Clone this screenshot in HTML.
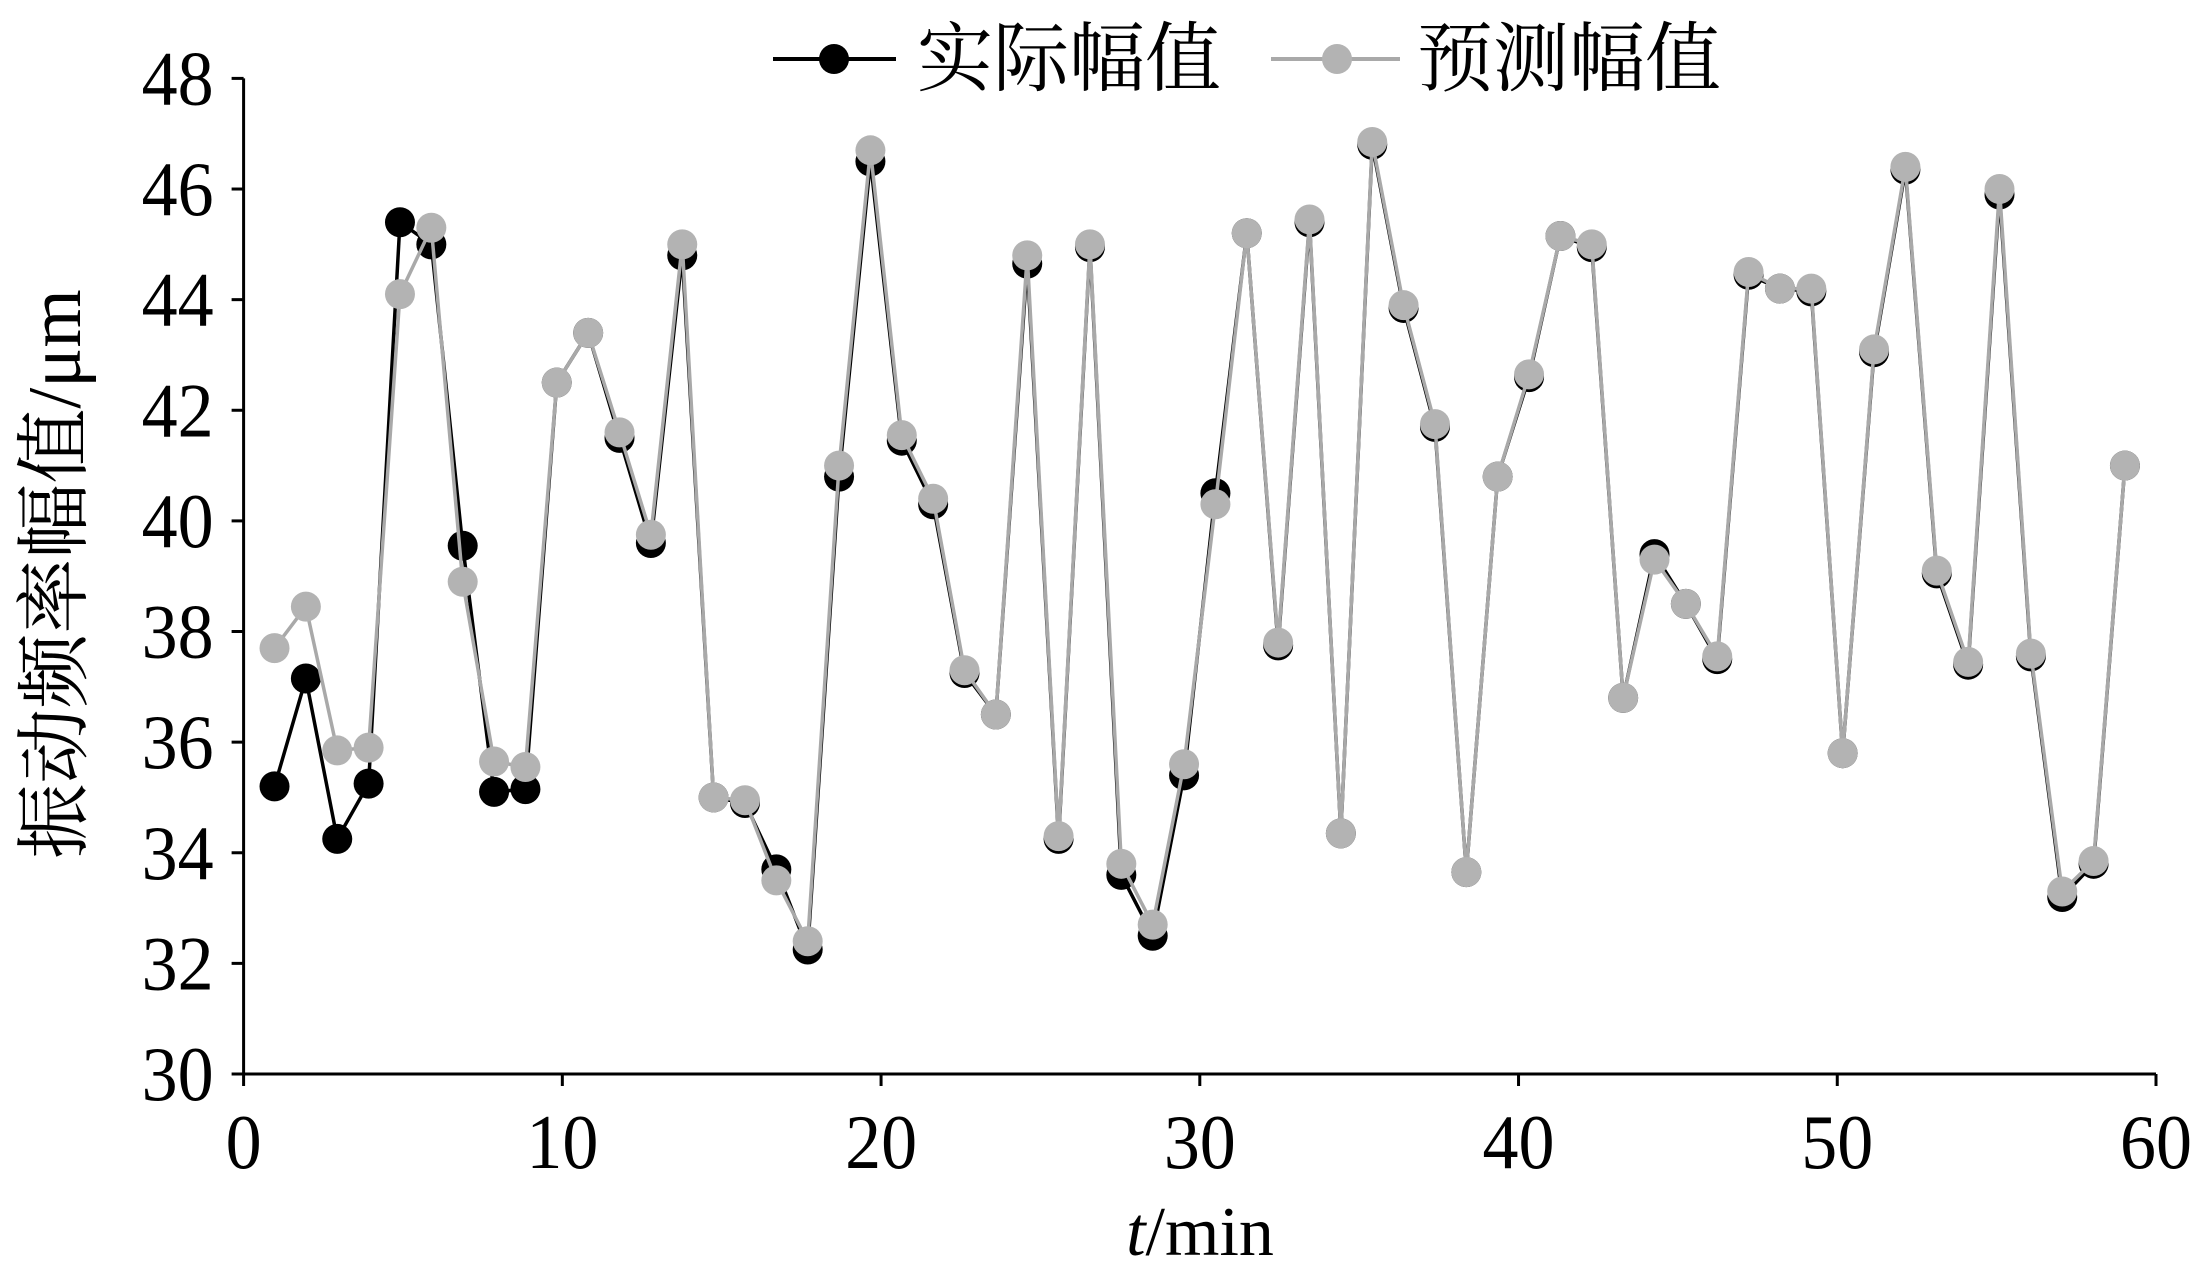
<!DOCTYPE html>
<html><head><meta charset="utf-8"><style>
html,body{margin:0;padding:0;background:#fff;}
svg{display:block;}
</style></head><body>
<svg id="chart" width="2195" height="1280" viewBox="0 0 2195 1280" xmlns="http://www.w3.org/2000/svg">
<g id="axes"></g>
<g id="series"></g>
<g>
  <line x1="773" y1="59" x2="896" y2="59" stroke="#000" stroke-width="4"/>
  <circle cx="834" cy="59" r="15" fill="#000"/>
  <text x="917" y="85" font-family="'Liberation Serif','Noto Serif CJK SC',serif" font-size="76">实际幅值</text>
  <line x1="1271" y1="59" x2="1400" y2="59" stroke="#a9a9a9" stroke-width="4"/>
  <circle cx="1337" cy="59" r="15" fill="#b3b3b3"/>
  <text x="1417" y="85" font-family="'Liberation Serif','Noto Serif CJK SC',serif" font-size="76">预测幅值</text>
</g>
<text transform="translate(80,574) rotate(-90)" text-anchor="middle" font-family="'Liberation Serif','Noto Serif CJK SC',serif" font-size="75">振动频率幅值/μm</text>
<text x="1200" y="1255" text-anchor="middle" font-family="'Liberation Serif',serif" font-size="70"><tspan font-style="italic">t</tspan>/min</text>
</svg>
<script>
const actual=[35.2,37.15,34.25,35.25,45.4,45.0,39.55,35.1,35.15,42.5,43.4,41.5,39.6,44.8,35.0,34.9,33.7,32.25,40.8,46.5,41.45,40.3,37.25,36.5,44.65,34.25,44.95,33.6,32.5,35.4,40.5,45.2,37.75,45.4,34.35,46.8,43.85,41.7,33.65,40.8,42.6,45.15,44.95,36.8,39.4,38.5,37.5,44.45,44.2,44.15,35.8,43.05,46.35,39.05,37.4,45.9,37.55,33.2,33.8,41.0];
const predicted=[37.7,38.45,35.85,35.9,44.1,45.3,38.9,35.65,35.55,42.5,43.4,41.6,39.75,45.0,35.0,34.95,33.5,32.4,41.0,46.7,41.55,40.4,37.3,36.5,44.8,34.3,45.0,33.8,32.7,35.6,40.3,45.2,37.8,45.45,34.35,46.85,43.9,41.75,33.65,40.8,42.65,45.15,45.0,36.8,39.3,38.5,37.55,44.5,44.2,44.2,35.8,43.1,46.4,39.1,37.45,46.0,37.6,33.3,33.85,41.0];
const times=actual.map((_,i)=>+(0.97+i*0.984).toFixed(3));
const xTicks=[0,10,20,30,40,50,60];
const yTicks=[30,32,34,36,38,40,42,44,46,48];

const NS="http://www.w3.org/2000/svg";
const X0=243.6,X1=2156,Y0=1074,Y1=78.4;
const xs=t=>X0+(t-0)/(60-0)*(X1-X0);
const ys=v=>Y0-(v-30)/(48-30)*(Y0-Y1);
function mk(tag,attrs,parent){const e=document.createElementNS(NS,tag);for(const k in attrs)e.setAttribute(k,attrs[k]);parent.appendChild(e);return e;}
const axes=document.getElementById('axes');
let a=mk('line',{x1:X0,y1:Y0,x2:X1,y2:Y0,stroke:'#000','stroke-width':3},axes);


a=mk('line',{x1:X0,y1:Y0+1.5,x2:X0,y2:Y1,stroke:'#000','stroke-width':3},axes);


xTicks.forEach(t=>{
  const tk=mk('line',{x1:xs(t),y1:Y0,x2:xs(t),y2:Y0+12,stroke:'#000','stroke-width':3},axes);
  
  
  const lb=mk('text',{transform:'translate('+xs(t)+','+(Y0+94)+') scale(1,1.08)','text-anchor':'middle','font-family':"'Liberation Serif',serif",'font-size':72},axes);
  lb.textContent=t;
  
  
});
yTicks.forEach(v=>{
  const tk=mk('line',{x1:X0-12,y1:ys(v),x2:X0,y2:ys(v),stroke:'#000','stroke-width':3},axes);
  
  
  const lb=mk('text',{transform:'translate('+(X0-30)+','+(ys(v)+26)+') scale(1,1.08)','text-anchor':'end','font-family':"'Liberation Serif',serif",'font-size':72},axes);
  lb.textContent=v;
  
  
});
const series=document.getElementById('series');
function draw(vals,stroke,fill,name){
  const g=mk('g',{},series);
  
  
  const pl=mk('polyline',{points:vals.map((v,i)=>xs(times[i])+','+ys(v)).join(' '),fill:'none',stroke:stroke,'stroke-width':3.5},g);
  
  
  vals.forEach((v,i)=>{
    const c=mk('circle',{cx:xs(times[i]),cy:ys(v),r:15,fill:fill},g);
    
    
  });
}
draw(actual,'#000','#000','actual');
draw(predicted,'#a9a9a9','#b3b3b3','predicted');
</script>
</body></html>
